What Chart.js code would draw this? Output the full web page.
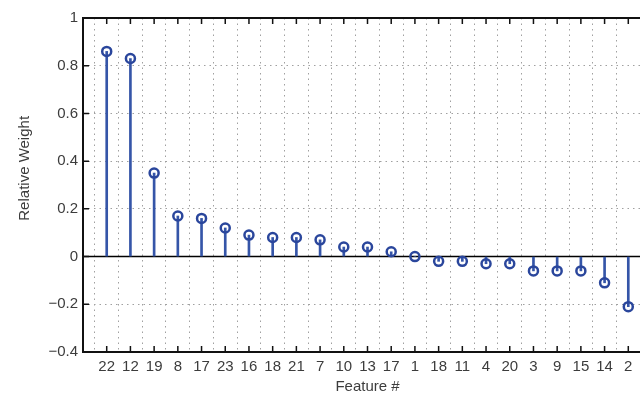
<!DOCTYPE html>
<html>
<head>
<meta charset="utf-8">
<script src="https://cdn.jsdelivr.net/npm/chart.js@4"></script>
<style>
  html, body { margin: 0; padding: 0; background: #fff; overflow: hidden; width: 640px; height: 396px; }
  #wrap { width: 670px; height: 396px; position: relative; }
</style>
</head>
<body>
<div id="wrap"><canvas id="stemChart"></canvas></div>
<script>
// feature ids as printed under the axis (ordered by weight)
const features = ['22', '12', '19', '8', '17', '23', '16', '18', '21', '7', '10', '13', '17', '1', '18', '11', '4', '20', '3', '9', '15', '14', '2'];
const weights = [0.86, 0.83, 0.35, 0.17, 0.16, 0.12, 0.09, 0.08, 0.08, 0.07, 0.04, 0.04, 0.02, 0.0, -0.02, -0.02, -0.03, -0.03, -0.06, -0.06, -0.06, -0.11, -0.21];
const yTicks = [-0.4, -0.2, 0, 0.2, 0.4, 0.6, 0.8, 1];

// pad one empty slot each side so the axis runs from 0 to 24
const labels = [''].concat(features, ['']);
const values = [null].concat(weights, [null]);

const stemBlue = '#3555a8';
const markBlue = '#2a469c';
const textCol = '#3c3c3c';
const font = { family: "'Liberation Sans', Arial, sans-serif", size: 15 };

// box, inward ticks and zero line like matlab
const matlabAxes = {
    id: 'matlabAxes',
    beforeDatasetsDraw(chart) {
        const { ctx, chartArea: a, scales: { y } } = chart;
        const y0 = y.getPixelForValue(0);
        ctx.save();
        ctx.strokeStyle = '#000';
        ctx.lineWidth = 1.5;
        ctx.beginPath();
        ctx.moveTo(a.left, y0);
        ctx.lineTo(a.right, y0);
        ctx.stroke();
        ctx.restore();
    },
    afterDraw(chart) {
        const { ctx, chartArea: a, scales: { x, y } } = chart;
        ctx.save();
        ctx.strokeStyle = '#111';
        ctx.lineWidth = 1.5;
        ctx.beginPath();
        for (let i = 1; i <= features.length; i++) {
            const px = x.getPixelForValue(i);
            ctx.moveTo(px, a.bottom);
            ctx.lineTo(px, a.bottom - 6);
            ctx.moveTo(px, a.top);
            ctx.lineTo(px, a.top + 6);
        }
        yTicks.forEach(v => {
            const py = y.getPixelForValue(v);
            ctx.moveTo(a.left, py);
            ctx.lineTo(a.left + 6, py);
        });
        ctx.stroke();
        ctx.lineWidth = 2;
        ctx.strokeRect(a.left, a.top, a.right - a.left, a.bottom - a.top);
        ctx.restore();
    }
};

const ctx = document.getElementById('stemChart').getContext('2d');
new Chart(ctx, {
    type: 'bar',
    data: {
        labels: labels,
        datasets: [
            {
                type: 'line',
                label: 'marker',
                data: values,
                showLine: false,
                pointStyle: 'circle',
                pointRadius: 4.5,
                pointBorderWidth: 2.5,
                pointBorderColor: markBlue,
                pointBackgroundColor: 'rgba(255,255,255,0)',
                order: 0
            },
            {
                label: 'stem',
                data: values,
                backgroundColor: stemBlue,
                barThickness: 2,
                order: 1
            }
        ]
    },
    options: {
        responsive: true,
        maintainAspectRatio: false,
        animation: false,
        layout: { padding: { left: 0, right: 18, top: 18, bottom: 0 } },
        plugins: {
            legend: { display: false },
            tooltip: { enabled: false }
        },
        scales: {
            x: {
                offset: false,
                border: { display: false, dash: [1.5, 4] },
                grid: { color: '#a0a0a0', lineWidth: 1, drawTicks: false },
                ticks: {
                    autoSkip: false,
                    maxRotation: 0,
                    padding: 6,
                    color: textCol,
                    font: font
                },
                title: {
                    display: true,
                    text: 'Feature #',
                    color: textCol,
                    font: font,
                    padding: { top: 1, bottom: 0 }
                },
                afterFit: (scale) => { scale.width; scale.height = 44; }
            },
            y: {
                min: -0.4,
                max: 1,
                border: { display: false, dash: [1.5, 4] },
                grid: { color: '#a0a0a0', lineWidth: 1, drawTicks: false },
                afterBuildTicks: (scale) => { scale.ticks = yTicks.map(v => ({ value: v })); },
                ticks: {
                    padding: 5,
                    color: textCol,
                    font: font,
                    callback: (v) => Math.abs(v) < 1e-9 ? '0' : String(+v.toFixed(1)).replace('-', '\u2212')
                },
                title: {
                    display: true,
                    text: '        Relative Weight',
                    color: textCol,
                    font: font,
                    padding: { top: 16, bottom: 0 }
                },
                afterFit: (scale) => { scale.width = 83; }
            }
        }
    },
    plugins: [matlabAxes]
});
</script>
</body>
</html>
